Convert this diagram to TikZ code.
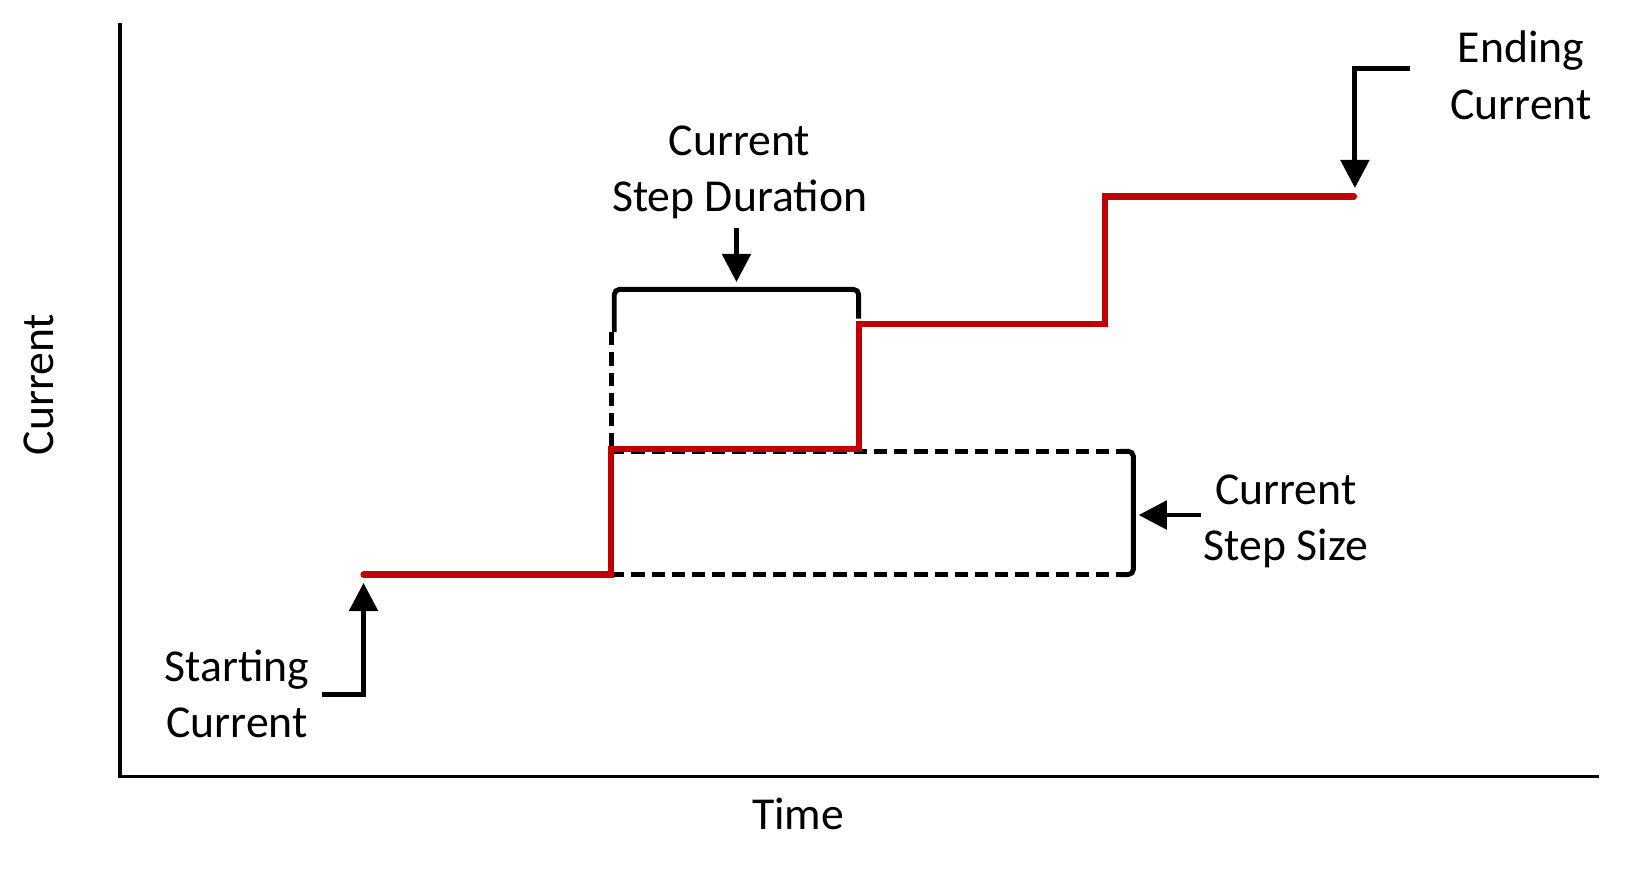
\documentclass[tikz,border=0pt]{standalone}
\usepackage{fontspec}
\setmainfont{Carlito}
\usepackage{tikz}
\usetikzlibrary{arrows.meta,positioning,calc}
\definecolor{stepred}{RGB}{192,0,0}

\begin{document}
\begin{tikzpicture}[
    x=0.020893cm, y=-0.020893cm,
    axis/.style={line width=1.9pt},
    staircase/.style={stepred, line width=3.6pt, line cap=round},
    guide/.style={line width=2.8pt, dash pattern=on 7.5pt off 4pt},
    bracket/.style={line width=2.8pt, rounded corners=3pt},
    pointer/.style={line width=2.8pt, -{Triangle[length=16pt, width=16pt]}},
    label/.style={align=center, font=\fontsize{26}{32}\selectfont, inner sep=0pt}
]
\useasboundingbox (0,0) rectangle (1568,837);

% Axes
\coordinate (origin) at (115,743);
\draw[axis] (115,22) -- (origin) -- (1531,743);
\node[label] (ylabel) at (37,368) [rotate=90] {Current};
\node[label] (xlabel) at (764,779) {Time};

% Corners of the staircase
\coordinate (s0) at (348,550);
\coordinate (s1) at (585,550);
\coordinate (s2) at (585,430);
\coordinate (s3) at (822,430);
\coordinate (s4) at (822,310);
\coordinate (s5) at (1058,310);
\coordinate (s6) at (1058,188);
\coordinate (s7) at (1296,188);

% Dashed guides
\draw[guide] (s1) -- (1078,550);
\draw[guide] (585,432) -- (1078,432);
\draw[guide] (585,318) -- (s2);

% Brackets
\draw[bracket] (1072,432) -- (1085,432) -- (1085,550) -- (1072,550);
\draw[bracket] (588,318) -- (588,277) -- (822,277) -- (822,305);

% Staircase
\draw[staircase] (s0) -- (s1) -- (s2) -- (s3) -- (s4) -- (s5) -- (s6) -- (s7);

% Labels
\node[label] (duration) at (708,165) {Current\\Step Duration};
\node[label] (size) at (1231,499) {Current\\Step Size};
\node[label] (start) at (227,664) {Starting\\Current};
\node[label] (end) at (1456,72) {Ending\\Current};

% Pointers
\draw[pointer] (705,218) -- (705,270);
\draw[pointer] (1150,493) -- (1090,493);
\draw[pointer] (308,665) -- (348,665) -- (348,558);
\draw[pointer] (1350,66) -- (1297,66) -- (1297,180);

\end{tikzpicture}
\end{document}
